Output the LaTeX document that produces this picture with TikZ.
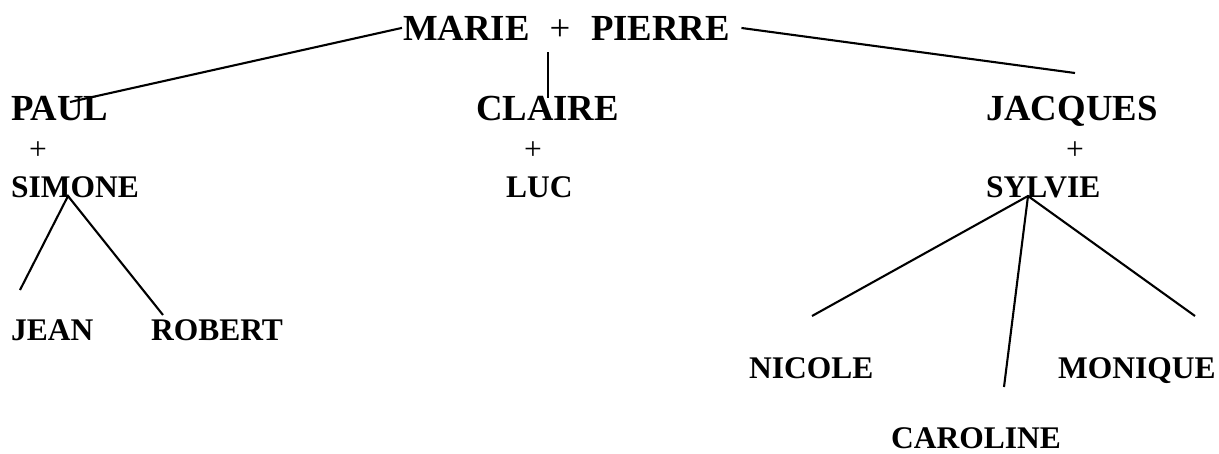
\documentclass[tikz,border=0pt]{standalone}
\usepackage{fontspec}
\setmainfont{Liberation Serif}
\usetikzlibrary{positioning}

\begin{document}
\begin{tikzpicture}[x=0.381pt,y=-0.381pt,line width=0.8pt]
    \tikzstyle{big}=[inner sep=0pt,anchor=base west,font=\fontsize{14}{16}\selectfont\bfseries]
    \tikzstyle{small}=[big,font=\fontsize{12}{14}\selectfont\bfseries]
    \tikzstyle{plus}=[inner sep=0pt,anchor=base,font=\fontsize{12}{14}\selectfont]

\useasboundingbox (0,0) rectangle (1219,453);

% couple du haut
\node[big] (marie) at (402,40) {MARIE};
\node[plus,font=\fontsize{14}{16}\selectfont] (plus) at (560,40) {+};
\node[big] (pierre) at (590,40) {PIERRE};

% enfants
\node[big] (paul) at (10,120) {PAUL};
\node[plus] (p1) at (38,159) {+};
\node[small] (simone) at (10,197) {SIMONE};

\node[big] (claire) at (475,120) {CLAIRE};
\node[plus] (p2) at (533,159) {+};
\node[small] (luc) at (505,197) {LUC};

\node[big] (jacques) at (985,120) {JACQUES};
\node[plus] (p3) at (1075,159) {+};
\node[small] (sylvie) at (985,197) {SYLVIE};

% petits-enfants
\node[small] (jean) at (10,340) {JEAN};
\node[small] (robert) at (150,340) {ROBERT};
\node[small] (nicole) at (748,378) {NICOLE};
\node[small] (monique) at (1057,378) {MONIQUE};
\node[small] (caroline) at (890,448) {CAROLINE};

\coordinate (a) at (70,102);
\coordinate (b) at (548,52);
\coordinate (c) at (548,98);
\coordinate (d) at (1075,73);
\coordinate (s) at (68,196);
\coordinate (s1) at (20,290);
\coordinate (s2) at (163,315);
\coordinate (y) at (1028,196);
\coordinate (y1) at (812,316);
\coordinate (y2) at (1004,387);
\coordinate (y3) at (1195,316);

\draw (marie.west) -- (a);
\draw (b) -- (c);
\draw ([xshift=4pt]pierre.east) -- (d);
\draw (s1) -- (s) -- (s2);
\draw (y1) -- (y) -- (y3);
\draw (y) -- (y2);
\end{tikzpicture}
\end{document}
